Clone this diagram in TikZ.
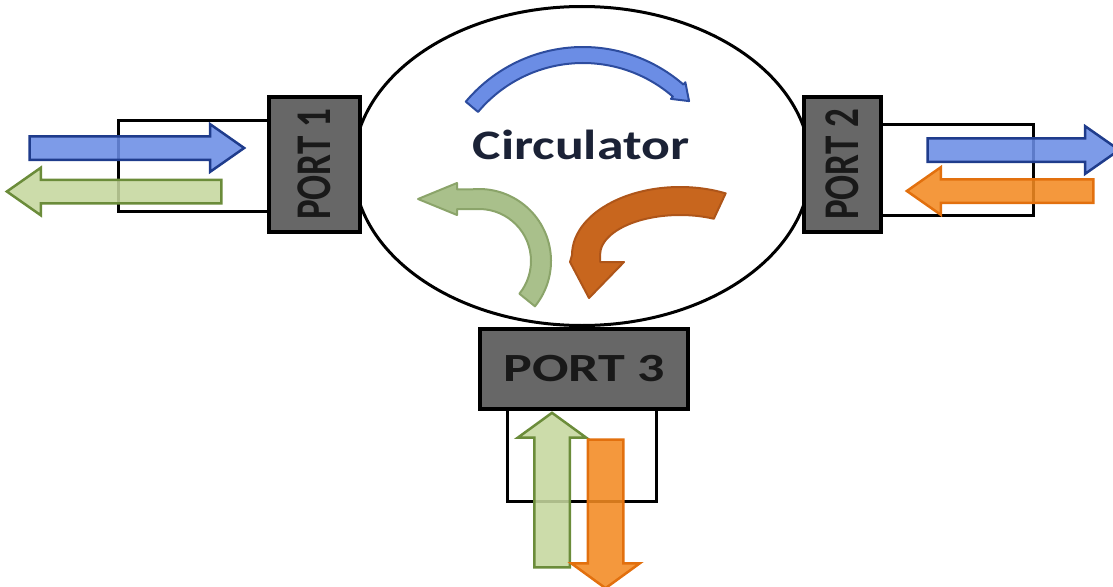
\documentclass[tikz,border=0pt]{standalone}
\usepackage{fontspec}
\setsansfont{Carlito}
\usepackage{graphicx}
\usetikzlibrary{shapes.geometric, shapes.arrows}
\definecolor{portgray}{HTML}{676767}
\definecolor{bluefill}{HTML}{6B8DE5}
\definecolor{blueline}{HTML}{1F3C8C}
\definecolor{greenfill}{HTML}{C5D79E}
\definecolor{greenline}{HTML}{6B8C3A}
\definecolor{orangefill}{HTML}{F28A22}
\definecolor{orangeline}{HTML}{E2700E}
\definecolor{cbluefill}{HTML}{6B8DE5}
\definecolor{cblueline}{HTML}{2D4C9E}
\definecolor{cgreenfill}{HTML}{A9C08B}
\definecolor{cgreenline}{HTML}{8BA46A}
\definecolor{corangefill}{HTML}{C8661E}
\definecolor{corangeline}{HTML}{AE5519}
\definecolor{labelnavy}{HTML}{1B2236}
\tikzset{
	portbox/.style={draw=black, line width=4pt, fill=portgray, inner sep=0pt,
		text=black!90, font=\sffamily\bfseries},
	linebox/.style={draw=black, line width=3pt, inner sep=0pt},
	harrow/.style={single arrow, line width=2.5pt, inner xsep=0pt, inner ysep=10.5pt,
		single arrow head extend=12pt, single arrow tip angle=70, fill opacity=.88},
	varrow/.style={single arrow, line width=2.5pt, inner xsep=0pt, inner ysep=16.5pt,
		single arrow head extend=16.5pt, single arrow tip angle=108, fill opacity=.88},
	bluearr/.style={draw=blueline, fill=bluefill},
	greenarr/.style={draw=greenline, fill=greenfill},
	orangearr/.style={draw=orangeline, fill=orangefill},
	cblue/.style={draw=cblueline, fill=cbluefill, line width=2pt, line join=round},
	cgreen/.style={draw=cgreenline, fill=cgreenfill, line width=2pt, line join=round},
	corange/.style={draw=corangeline, fill=corangefill, line width=2pt, line join=round}
}

\begin{document}
\begin{tikzpicture}[x=1pt, y=-1pt]
	\useasboundingbox (0,0) rectangle (1113,586);
	% line boxes
	\node[linebox, minimum width=170pt, minimum height=91pt] (line1) at (203.5,166) {};
	\node[linebox, minimum width=172pt, minimum height=91pt] (line2) at (947.5,170) {};
	\node[linebox, minimum width=149pt, minimum height=110pt] (line3) at (582,446.5) {};
	% circulator body
	\node[draw, ellipse, line width=3pt, minimum width=457pt, minimum height=319pt] (circ) at (582,166) {};
	% signal arrows
	\node[harrow, bluearr, minimum height=214.5pt] (p1in) at (128.5,148) {};
	\node[harrow, greenarr, minimum height=214.5pt, rotate=180] (p1out) at (122.5,191.5) {};
	\node[harrow, bluearr, minimum height=191.5pt] (p2out) at (1015,150) {};
	\node[harrow, orangearr, minimum height=186.5pt, rotate=180] (p2in) at (1008.5,191) {};
	\node[varrow, greenarr, minimum height=154.5pt, rotate=90] (p3in) at (552,496.5) {};
	\node[varrow, orangearr, minimum height=148.5pt, rotate=-90] (p3out) at (605.5,507.5) {};
	% ports
	\node[portbox, minimum width=91pt, minimum height=135pt] (port1) at (314.5,164.5)
		{\rotatebox{90}{\scalebox{1}[1.35]{\fontsize{37}{40}\selectfont PORT 1}}};
	\node[portbox, minimum width=77pt, minimum height=135pt] (port2) at (842.5,164.5)
		{\rotatebox{90}{\scalebox{1}[1.35]{\fontsize{37}{40}\selectfont PORT 2}}};
	\node[portbox, minimum width=208pt, minimum height=80pt] (port3) at (584,369)
		{\scalebox{1.35}[1]{\fontsize{40}{44}\selectfont PORT 3}};
	% circulation arrows
	\begin{scope}[shift={(583,200)}]
		\filldraw[cblue] (-140:153) arc[start angle=-140, end angle=-49, radius=153]
			-- (-49:156) -- (-43:145) -- (-49:134) -- (-49:137)
			arc[start angle=-49, end angle=-140, radius=137] -- cycle;
	\end{scope}
	\begin{scope}[shift={(479,261)}]
		\filldraw[cgreen] (39:72) arc[start angle=39, end angle=-95, radius=72]
			-- (-22,-71.7) -- (-22,-78) -- (-61,-62) -- (-22,-46) -- (-22,-51.8)
			-- (-95:52) arc[start angle=-95, end angle=39, radius=52] -- cycle;
	\end{scope}
	\begin{scope}[shift={(680,255)}]
		\filldraw[corange] (-65:108 and 68) arc[start angle=-65, end angle=-180, x radius=108, y radius=68]
			-- (-110,7) -- (-91,43) -- (-56,7) -- (-80,7) -- (-80,0)
			arc[start angle=-180, end angle=-65, x radius=80, y radius=40] -- cycle;
	\end{scope}
	\node[font=\sffamily\bfseries\fontsize{42}{46}\selectfont, text=labelnavy] (title) at (581,145)
		{\scalebox{1.28}[1]{Circulator}};
\end{tikzpicture}
\end{document}
